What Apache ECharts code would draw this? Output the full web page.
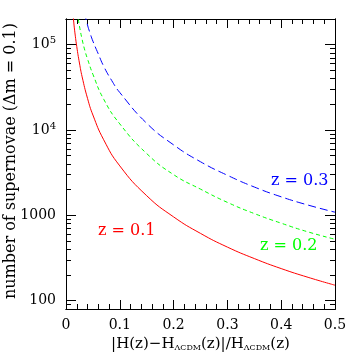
<!DOCTYPE html>
<html>
<head>
<meta charset="utf-8">
<script src="https://cdn.jsdelivr.net/npm/echarts@6/dist/echarts.min.js"></script>
<style>
  html, body { margin: 0; padding: 0; background: #fff; }
  #chart { width: 354px; height: 354px; }
</style>
</head>
<body>
<div id="chart"></div>
<script>
// points: [|dH/H|, number of supernovae]
var z01 = [[0.012, 265000], [0.014, 195000], [0.016, 148000], [0.02, 95000], [0.025, 61000],
  [0.03, 42000], [0.04, 23500], [0.05, 15000], [0.07, 7700], [0.1, 3800], [0.15, 1700],
  [0.2, 960], [0.25, 615], [0.3, 425], [0.35, 312], [0.4, 238], [0.45, 188], [0.5, 152]];
var z02 = [[0.021, 240000], [0.0225, 205000], [0.025, 165000], [0.03, 115000], [0.035, 86000],
  [0.04, 68000], [0.05, 45000], [0.07, 23000], [0.1, 11800], [0.15, 5300], [0.2, 3000],
  [0.25, 2030], [0.3, 1420], [0.35, 1050], [0.4, 810], [0.45, 640], [0.5, 525]];
var z03 = [[0.034, 240000], [0.04, 170000], [0.045, 135000], [0.05, 110000], [0.06, 78000],
  [0.07, 56000], [0.085, 38000], [0.1, 27500], [0.15, 12000], [0.2, 6700], [0.25, 4250],
  [0.3, 2950], [0.35, 2150], [0.4, 1650], [0.45, 1320], [0.5, 1090]];

var xMajor = [0, 0.1, 0.2, 0.3, 0.4, 0.5];
var xMinor = [0.02, 0.04, 0.06, 0.08, 0.12, 0.14, 0.16, 0.18, 0.22, 0.24, 0.26, 0.28,
  0.32, 0.34, 0.36, 0.38, 0.42, 0.44, 0.46, 0.48];
var yMajor = [100, 1000, 10000, 100000];
var yMinor = [80, 90, 200, 300, 400, 500, 600, 700, 800, 900, 2000, 3000, 4000, 5000,
  6000, 7000, 8000, 9000, 20000, 30000, 40000, 50000, 60000, 70000, 80000, 90000, 200000];

var FONT = 'DejaVu Serif';
var chart = echarts.init(document.getElementById('chart'));

function xAx(pos, ticks, len, show, extra) {
  var a = {
    type: 'value', position: pos, min: 0, max: 0.5,
    axisLine: { show: true, onZero: false, lineStyle: { color: '#000', width: 1 } },
    axisTick: { show: true, inside: true, length: len, customValues: ticks, lineStyle: { color: '#000' } },
    axisLabel: { show: show, customValues: xMajor, margin: 9, fontFamily: FONT, fontSize: 14, color: '#000',
      formatter: function (v) { return v === 0 ? '0' : String(v); } },
    splitLine: { show: false }
  };
  return Object.assign(a, extra || {});
}
function yAx(pos, ticks, len, show) {
  return {
    type: 'log', position: pos, min: 80, max: 200000, logBase: 10,
    axisLine: { show: true, onZero: false, lineStyle: { color: '#000', width: 1 } },
    axisTick: { show: true, inside: true, length: len, customValues: ticks, lineStyle: { color: '#000' } },
    axisLabel: { show: show, customValues: yMajor, margin: 10, fontFamily: FONT, fontSize: 14, color: '#000',
      formatter: function (v) {
        if (v >= 10000) return '10{sup|' + Math.round(Math.log10(v)) + '}';
        return String(v);
      },
      rich: { sup: { fontFamily: FONT, fontSize: 10, verticalAlign: 'top', padding: [0, 0, 8, 0], color: '#000' } } },
    splitLine: { show: false }
  };
}

var option = {
  backgroundColor: '#fff',
  animation: false,
  grid: { left: 66, right: 19, top: 19, bottom: 45, outerBoundsMode: 'none', containLabel: false },
  xAxis: [
    xAx('bottom', xMajor, 9, true, {
      name: '|H(z)\u2212H{sub|\u039bCDM}(z)|/H{sub|\u039bCDM}(z)',
      nameLocation: 'middle', nameGap: 27,
      nameTextStyle: { fontFamily: FONT, fontSize: 15, color: '#000',
        rich: { sub: { fontFamily: FONT, fontSize: 8, color: '#000', padding: [7, 0, 0, 0] } } }
    }),
    xAx('bottom', xMinor, 5, false),
    xAx('top', xMajor, 9, false),
    xAx('top', xMinor, 5, false)
  ],
  yAxis: [
    yAx('left', yMajor, 10, true),
    yAx('left', yMinor, 5, false),
    yAx('right', yMajor, 10, false),
    yAx('right', yMinor, 5, false)
  ],
  series: [
    { type: 'line', data: z01, smooth: true, showSymbol: false, clip: true,
      lineStyle: { color: '#ff0000', width: 1 } },
    { type: 'line', data: z02, smooth: true, showSymbol: false, clip: true,
      lineStyle: { color: '#00ff00', width: 1, type: [4, 3] } },
    { type: 'line', data: z03, smooth: true, showSymbol: false, clip: true,
      lineStyle: { color: '#0000ff', width: 1, type: [8, 4] } }
  ],
  graphic: [
    { type: 'text', x: 11, y: 161, rotation: Math.PI / 2,
      style: { text: 'number of supernovae (\u0394m = 0.1)', fill: '#000', font: '16px "DejaVu Serif"',
        align: 'center', verticalAlign: 'middle' } },
    { type: 'text', left: 98, top: 223, style: { text: 'z = 0.1', fill: '#ff0000', font: '16px "DejaVu Serif"' } },
    { type: 'text', left: 260, top: 238, style: { text: 'z = 0.2', fill: '#00ff00', font: '16px "DejaVu Serif"' } },
    { type: 'text', left: 271, top: 173, style: { text: 'z = 0.3', fill: '#0000ff', font: '16px "DejaVu Serif"' } }
  ]
};
chart.setOption(option);
</script>
</body>
</html>
